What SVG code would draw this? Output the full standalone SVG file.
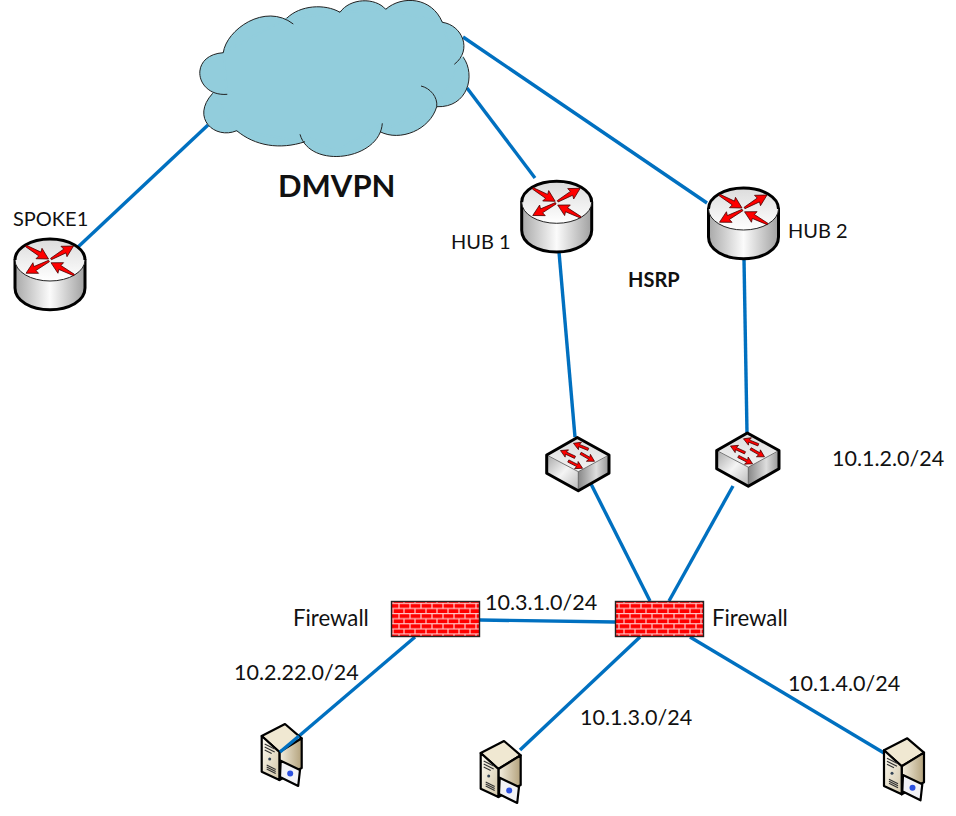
<svg xmlns="http://www.w3.org/2000/svg" xmlns:xlink="http://www.w3.org/1999/xlink" width="956" height="816" viewBox="0 0 956 816">
<style>
.lbl{font-family:"Lato","Liberation Sans",sans-serif;font-size:21.500px;fill:#111}
.u{font-size:20px}
.b{font-weight:700}
.link{stroke:#0070c0;stroke-width:3.400;fill:none;stroke-linecap:butt}
.ar{fill:#f00;stroke:#400;stroke-width:.7;stroke-linejoin:miter}
.ol{stroke:#000;stroke-width:3;stroke-linejoin:round}
.s{stroke:#000;stroke-width:2.200;stroke-linejoin:round}
</style>
<defs>
<linearGradient id="cyl" x1="0" x2="1" y1="0" y2="0"><stop offset="0" stop-color="#a8a8a8"/><stop offset=".5" stop-color="#fbfbfb"/><stop offset="1" stop-color="#a0a0a0"/></linearGradient>
<linearGradient id="topg" x1="0" x2="0" y1="0" y2="1"><stop offset="0" stop-color="#dcdcdc"/><stop offset="1" stop-color="#fff"/></linearGradient>
<linearGradient id="swl" x1="0" x2="1" y1="0" y2="1"><stop offset="0" stop-color="#aaa"/><stop offset=".5" stop-color="#f4f4f4"/><stop offset="1" stop-color="#bbb"/></linearGradient>
<linearGradient id="swr" x1="0" x2="1" y1="0" y2="0"><stop offset="0" stop-color="#888"/><stop offset=".6" stop-color="#ddd"/><stop offset="1" stop-color="#999"/></linearGradient>
<linearGradient id="srvf" x1="0" x2="1" y1="0" y2="1"><stop offset="0" stop-color="#fffdf4"/><stop offset="1" stop-color="#d2c6a8"/></linearGradient>
<linearGradient id="srvr" x1="0" x2="1" y1="0" y2="0"><stop offset="0" stop-color="#f4efe0"/><stop offset="1" stop-color="#b3a27c"/></linearGradient>
<pattern id="brick" width="22" height="10.200" patternUnits="userSpaceOnUse" x="0" y="1">
<rect width="22" height="10.200" fill="#f00"/>
<path d="M0 .5H22M0 5.600H22M3 .5V5.600M14 .5V5.600M8 5.600V10.200M19 5.600V10.200" stroke="#ffc8c8" stroke-width="1.200" fill="none"/>
</pattern>
<polygon id="arr" class="ar" points="0,-.8 16,-2.200 15,-6 26,0 15,6 16,2.200 0,.8"/>
<polygon id="sarr" class="ar" points="0,-1.200 10,-1.200 9,-4 16,0 9,4 10,1.200 0,1.200"/>
<g id="router">
<path class="ol" fill="url(#cyl)" d="M-35 0V28C-35 41-19 49.700 0 49.700S35 41 35 28V0Z"/>
<ellipse fill="url(#topg)" stroke="#222" stroke-width="1" cx="0" cy="0" rx="35" ry="21"/>
<path class="ol" fill="none" d="M-35 0C-35 -12-19 -21 0 -21S35 -12 35 0"/>
<use xlink:href="#arr" href="#arr" transform="translate(-24,-14) rotate(30)"/>
<use xlink:href="#arr" href="#arr" transform="translate(1,-1) rotate(-30)"/>
<use xlink:href="#arr" href="#arr" transform="translate(-1,1) rotate(152)"/>
<use xlink:href="#arr" href="#arr" transform="translate(24,15) rotate(208)"/>
</g>
<g id="switch">
<path fill="url(#topg)" d="M0 -17.500L31.700 0V18.300L1 35.700L-30.600 18.300V0Z"/>
<path fill="url(#swl)" d="M-30 1L1 16.700V35L-30 18Z"/>
<path fill="url(#swr)" d="M1 16.700L31 1V18L1 35Z"/>
<path d="M-30.600 0L1 16.700L31.700 0M1 16.700V35.700" stroke="#555" stroke-width=".8" fill="none"/>
<path class="ol" fill="none" d="M0 -17.500L31.700 0V18.300L1 35.700L-30.600 18.300V0Z"/>
<use xlink:href="#sarr" href="#sarr" transform="translate(11,-5.700) rotate(202)"/>
<use xlink:href="#sarr" href="#sarr" transform="translate(-2.300,2.300) rotate(205)"/>
<use xlink:href="#sarr" href="#sarr" transform="translate(3.300,-1.700) rotate(30)"/>
<use xlink:href="#sarr" href="#sarr" transform="translate(-9,6) rotate(27)"/>
</g>
<g id="server">
<path fill="#f0e8d2" class="s" d="M0 12L23.300 0L40 14.300L17.700 28Z"/>
<path fill="url(#srvr)" class="s" d="M17.700 28L40 14.300V44L17.700 56Z"/>
<path fill="url(#srvf)" class="s" d="M0 12L17.700 28V56L0 47.700Z"/>
<path d="M3 20L13 25M3 23L13 28M3 26L10 29.500M5 41L14 45.500M5 43L14 47.500M5 45L14 49.500" stroke="#333" stroke-width="1.200" fill="none"/>
<circle cx="8" cy="35" r="1.500" fill="#345"/>
<path fill="#f2f2f6" class="s" d="M19 36.700L38.300 46L36.500 62L18.300 53Z"/>
<circle cx="28.500" cy="49.500" r="3" fill="#2b50e0"/>
</g>
</defs>
<rect width="956" height="816" fill="#fff"/>
<g id="connectors">
<path class="link" d="M78 247L208 125"/>
<path class="link" d="M467 88L535 178"/>
<path class="link" d="M463 37L707 203"/>
<path class="link" d="M559 252L575 437"/>
<path class="link" d="M744 259L747 433"/>
<path class="link" d="M589 480L650 601"/>
<path class="link" d="M733 486L669 601"/>
<path class="link" d="M480 620L615 622"/>
<path class="link" d="M415 637L299 736"/>
<path class="link" d="M640 637L520 750"/>
<path class="link" d="M690 637L884 753"/>
</g>
<g id="cloud">
<path fill="#92cddc" d="M223.300 52.700C226 30 265 2 293.300 24M286.700 18.300C300 5 325 3.500 340 12.300M340 12.300C350 -2 375 -3 385.700 9.300M385.700 9.300C402 -5 432 -3 442.300 22.300M442.300 22.300C462 25 473 50 454.300 64.300M463.300 57.300C476 75 468 108 436.700 106.700M436.700 106.700C430 130 400 142 380 131.700M382.300 123.300C380 160 310 170 300 134.300M305 141.700C280 150 255 146 236.700 130.700M236.700 130.700C215 140 190 118 212.700 93.300M227.300 94.300C195 97 188 55 223.300 52.700"/>
<path fill="#92cddc" stroke="#92cddc" stroke-width="2" stroke-linejoin="round" d="M223.300 52.700L286.700 18.300L340 12.300L385.700 9.300L442.300 22.300L454.300 64.300L463.300 57.300L436.700 106.700L380 131.700L382.300 123.300L338 150L300 134.300L305 141.700L236.700 130.700L212.700 93.300L227.300 94.300Z"/>
<path fill="none" stroke="#222" stroke-width="1" d="M223.300 52.700C226 30 265 2 293.300 24M286.700 18.300C300 5 325 3.500 340 12.300M340 12.300C350 -2 375 -3 385.700 9.300M385.700 9.300C402 -5 432 -3 442.300 22.300M442.300 22.300C462 25 473 50 454.300 64.300M463.300 57.300C476 75 468 108 436.700 106.700M421 86C430 88 438 97 436.700 106.700C430 130 400 142 380 131.700M382.300 123.300C380 160 310 170 300 134.300M305 141.700C280 150 255 146 236.700 130.700M236.700 130.700C215 140 190 118 212.700 93.300M227.300 94.300C195 97 188 55 223.300 52.700"/>
</g>
<g id="node-spoke1"><use xlink:href="#router" href="#router" x="50" y="260"/><text class="lbl u" x="13" y="226">SPOKE1</text></g>
<g id="node-hub1"><use xlink:href="#router" href="#router" x="556.700" y="202.300"/><text class="lbl u" x="451" y="249">HUB 1</text></g>
<g id="node-hub2"><use xlink:href="#router" href="#router" x="743.500" y="209"/><text class="lbl u" x="788" y="238">HUB 2</text></g>
<g id="node-sw1"><use xlink:href="#switch" href="#switch" x="577.300" y="455"/></g>
<g id="node-sw2"><use xlink:href="#switch" href="#switch" x="747.300" y="450.500"/></g>
<g id="node-fw1"><rect x="391.500" y="601.500" width="88" height="35" fill="url(#brick)" stroke="#222" stroke-width="1.400"/><text class="lbl" x="293" y="626" style="font-size:22.200px">Firewall</text></g>
<g id="node-fw2"><rect x="615.500" y="601.500" width="88" height="35" fill="url(#brick)" stroke="#222" stroke-width="1.400"/><text class="lbl" x="712" y="626" style="font-size:22.200px">Firewall</text></g>
<g id="node-srv1"><use xlink:href="#server" href="#server" x="261.700" y="724"/></g>
<g id="node-srv2"><use xlink:href="#server" href="#server" x="480.700" y="741"/></g>
<g id="node-srv3"><use xlink:href="#server" href="#server" x="884" y="738.300"/></g>
<g id="overlay-link"><path class="link" d="M299 736L280 752"/></g>
<g id="labels">
<text class="lbl b" x="278" y="197" style="font-size:31px">DMVPN</text>
<text class="lbl b u" x="628" y="287">HSRP</text>
<text class="lbl" x="832" y="466">10.1.2.0/24</text>
<text class="lbl" x="485" y="610">10.3.1.0/24</text>
<text class="lbl" x="234" y="680">10.2.22.0/24</text>
<text class="lbl" x="580" y="725">10.1.3.0/24</text>
<text class="lbl" x="788" y="691">10.1.4.0/24</text>
</g>
</svg>
